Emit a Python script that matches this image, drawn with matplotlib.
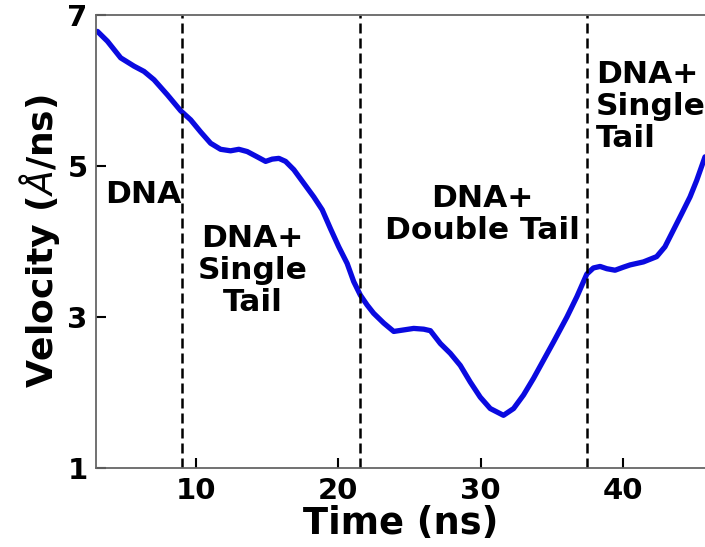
import matplotlib.pyplot as plt

# velocity curve
time_ns = [3.11, 3.81, 4.74, 5.68, 6.38, 7.08, 8.02, 8.95, 9.65, 10.35,
           11.05, 11.75, 12.45, 13.03, 13.62, 14.32, 14.91, 15.37, 15.84, 16.31,
           16.89, 17.59, 18.29, 18.88, 19.46, 20.04, 20.63, 21.09, 21.56, 22.03,
           22.49, 23.20, 23.90, 24.60, 25.30, 26.00, 26.47, 27.17, 27.87, 28.57,
           29.27, 29.97, 30.67, 31.60, 32.31, 33.01, 33.71, 34.41, 35.11, 36.05,
           36.75, 37.45, 37.91, 38.38, 38.85, 39.43, 40.01, 40.48, 41.42, 42.35,
           42.93, 43.52, 44.11, 44.69, 45.16, 45.74]
velocity = [6.78, 6.65, 6.43, 6.32, 6.25, 6.14, 5.94, 5.73, 5.61, 5.45,
            5.30, 5.22, 5.20, 5.22, 5.19, 5.12, 5.06, 5.09, 5.10, 5.06,
            4.95, 4.77, 4.59, 4.42, 4.17, 3.93, 3.71, 3.47, 3.29, 3.16,
            3.05, 2.92, 2.81, 2.83, 2.85, 2.84, 2.82, 2.65, 2.52, 2.36,
            2.14, 1.94, 1.79, 1.70, 1.79, 1.97, 2.19, 2.43, 2.67, 3.00,
            3.27, 3.57, 3.65, 3.67, 3.64, 3.62, 3.66, 3.69, 3.73, 3.80,
            3.93, 4.15, 4.37, 4.59, 4.81, 5.12]

boundaries = [9.02, 21.56, 37.47]

region_labels = ["DNA", "DNA+\nSingle\nTail", "DNA+\nDouble Tail", "DNA+\nSingle\nTail"]
region_x = [3.65, 14.0, 30.1, 38.1]
region_y = [4.62, 3.61, 4.36, 5.78]
region_ha = ["left", "center", "center", "left"]

x_ticks = [10, 20, 30, 40]
y_ticks = [1, 3, 5, 7]

fig = plt.figure(figsize=(7.05, 5.47), dpi=100)
ax = fig.add_axes([0.136, 0.144, 0.864, 0.829])

ax.plot(time_ns, velocity, color='#0a0ae0', lw=3.8,
        solid_capstyle='round', solid_joinstyle='round')
for b in boundaries:
    ax.axvline(b, color='black', ls=(0, (4, 2)), lw=1.8)

for lab, x, y, ha in zip(region_labels, region_x, region_y, region_ha):
    ax.text(x, y, lab, fontsize=22.5, fontweight='bold', ha=ha, va='center',
            linespacing=1.13)

ax.set_xlim(3.0, 45.74)
ax.set_ylim(1, 7)
ax.set_xticks(x_ticks)
ax.set_yticks(y_ticks)
ax.tick_params(direction='in', length=7, width=1.5, labelsize=21, pad=6)
for t in ax.get_xticklabels() + ax.get_yticklabels():
    t.set_fontweight('bold')

ax.spines['right'].set_visible(False)
for s in ['left', 'bottom', 'top']:
    ax.spines[s].set_color('#666666')
    ax.spines[s].set_linewidth(1.3)

ax.set_xlabel('Time (ns)', fontsize=26.5, fontweight='bold', labelpad=0)
ax.set_ylabel(r'Velocity ($\AA$/ns)', fontsize=26, fontweight='bold', labelpad=4)

fig.savefig('out.png', dpi=100)
